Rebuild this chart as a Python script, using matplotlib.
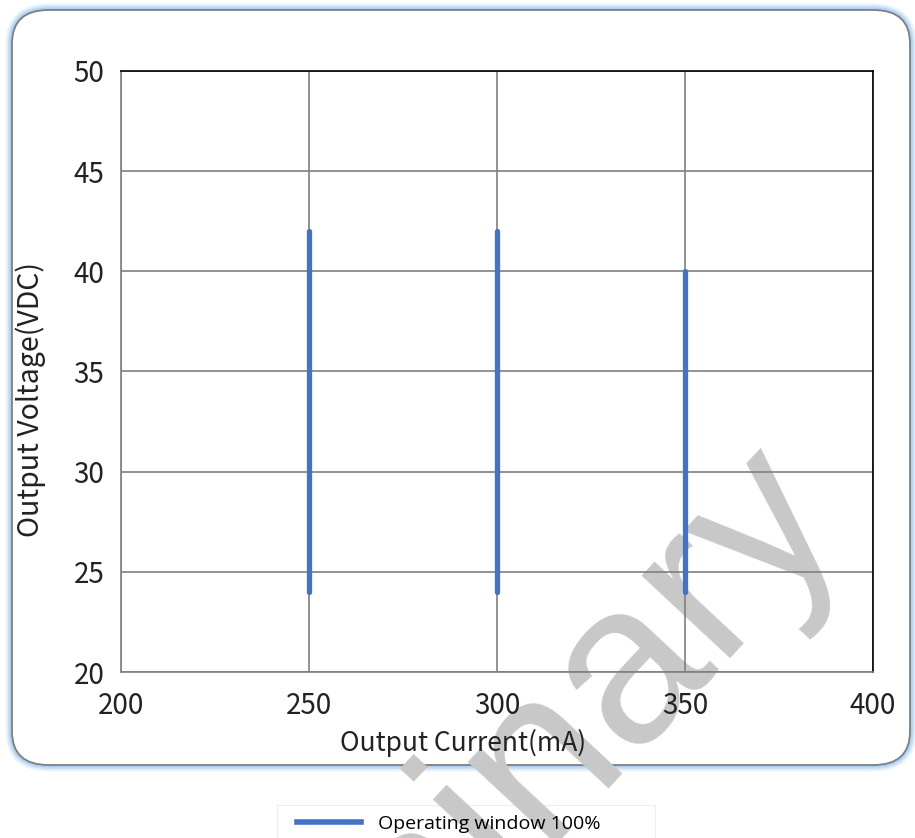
import matplotlib
matplotlib.use("Agg")
import matplotlib.pyplot as plt
from matplotlib.patches import FancyBboxPatch, Rectangle
from matplotlib.lines import Line2D

currents = [250, 300, 350]
v_low = [24, 24, 24]
v_high = [42, 42, 40]
x_ticks = [200, 250, 300, 350, 400]
y_ticks = [20, 25, 30, 35, 40, 45, 50]
series_label = "Operating window 100%"

plt.rcParams['font.family'] = ['Noto Sans CJK SC', 'DejaVu Sans']

W, H = 915, 838
fig = plt.figure(figsize=(W/100, H/100), dpi=100)

# rounded panel with blue glow
for lw, a in [(9, 0.25), (6, 0.4), (3.5, 0.6)]:
    fig.patches.append(FancyBboxPatch((12/W, 1-765/H), (898)/W, (755)/H,
        boxstyle="round,pad=0,rounding_size=0.04", transform=fig.transFigure,
        facecolor='none', edgecolor='#9cc8f0', linewidth=lw, alpha=a, zorder=-3))
fig.patches.append(FancyBboxPatch((12/W, 1-765/H), (898)/W, (755)/H,
    boxstyle="round,pad=0,rounding_size=0.04", transform=fig.transFigure,
    facecolor='white', edgecolor='#7f7f7f', linewidth=1.3, zorder=-2))

# legend frame
fig.patches.append(Rectangle((277/W, 0), (655-277)/W, (838-805)/H, transform=fig.transFigure,
    facecolor='none', edgecolor='#eeeeee', linewidth=0.8, zorder=-2))

# watermark (behind the chart)
fig.text(845/W, 1-516/H, "Preliminary", fontsize=165, color='#c8c8c8',
         rotation=47, rotation_mode='anchor', ha='right', va='baseline', zorder=-1,
         family=['Liberation Sans', 'DejaVu Sans'])

ax = fig.add_axes([121/W, 1-672/H, (873-121)/W, (672-71)/H])
ax.patch.set_alpha(0)
ax.set_xlim(200, 400)
ax.set_ylim(20, 50)
ax.set_xticks(x_ticks)
ax.set_yticks(y_ticks)
ax.grid(True, color='#7f7f7f', linewidth=1.2)
ax.set_axisbelow(True)
for s in ['left', 'bottom']:
    ax.spines[s].set_color('#7f7f7f')
    ax.spines[s].set_linewidth(1.2)
for s in ['top', 'right']:
    ax.spines[s].set_color('black')
    ax.spines[s].set_linewidth(1.2)
ax.tick_params(length=0, labelsize=20, pad=12, colors='#222222')
ax.tick_params(axis='x', pad=14)

for x, lo, hi in zip(currents, v_low, v_high):
    ax.plot([x, x], [lo, hi], color='#4472C4', linewidth=3.8, solid_capstyle='round')

ax.set_xlabel("Output Current(mA)", fontsize=19, color='#222222')
ax.set_ylabel("Output Voltage(VDC)", fontsize=20.5, color='#222222')
ax.xaxis.set_label_coords(0.455, -0.095)
ax.yaxis.set_label_coords(-0.1, 0.4526)

handle = Line2D([], [], color='#4472C4', linewidth=4)
leg = fig.legend([handle], [series_label], loc='center left', bbox_to_anchor=(283/W, 1-824/H),
                 frameon=False, handlelength=3.3, handletextpad=0.9, borderpad=0.2,
                 prop={'family': ['Open Sans', 'DejaVu Sans'], 'size': 14})

fig.savefig("out.png", dpi=100)
